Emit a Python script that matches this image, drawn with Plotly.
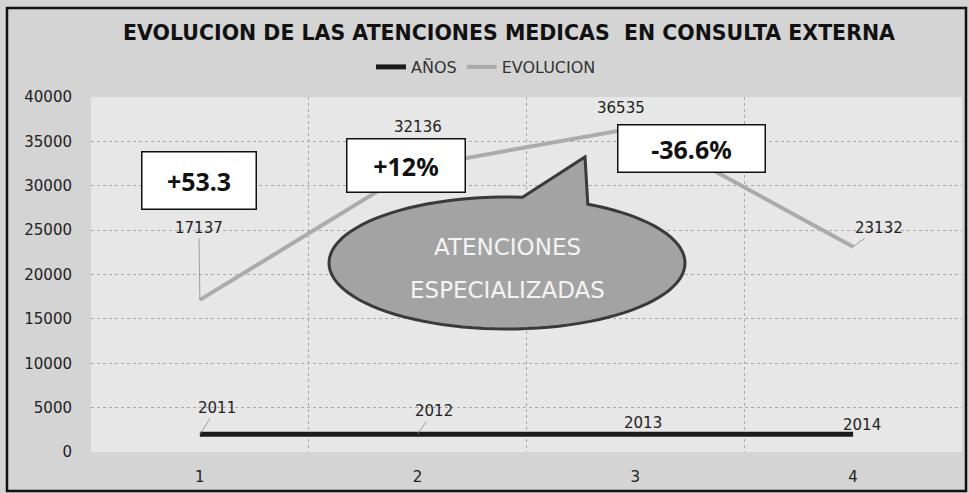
import numpy as np
import plotly.graph_objects as go

# ---------------- data ----------------
periodos = [1, 2, 3, 4]
anios = [2011, 2012, 2013, 2014]
evolucion = [17137, 32136, 36535, 23132]
variaciones = ["+53.3", "+12%", "-36.6%"]
titulo = "EVOLUCION DE LAS ATENCIONES MEDICAS  EN CONSULTA EXTERNA"
callout_text = ["ATENCIONES", "ESPECIALIZADAS"]
y_ticks = list(range(0, 40001, 5000))
y_ticklabels = [str(v) for v in y_ticks]

# ---------------- layout helpers (pixels -> plot paper) ----------------
W, H = 969, 493
L, R, T, B = 91, 962, 97, 452


def px(xp):
    return (xp - L) / (R - L)


def py(yp):
    return (B - yp) / (B - T)


FONT = "DejaVu Sans"

fig = go.Figure()
fig.add_trace(go.Scatter(x=periodos, y=anios, mode="lines", name="AÑOS",
                         line=dict(color="#1c1c1c", width=5)))
fig.add_trace(go.Scatter(x=periodos, y=evolucion, mode="lines", name="EVOLUCION",
                         line=dict(color="#ababab", width=4)))

annotations = []
# data labels (offsets in pixels, leader flag)
ev_off = [(-1, -72, True), (0, -40, False), (-14, -20, False), (26, -19, True)]
an_off = [(17, -26, True), (16, -23, True), (8, -11, True), (9, -9, False)]
for vals, offs in ((evolucion, ev_off), (anios, an_off)):
    for xv, yv, (ax, ay, lead) in zip(periodos, vals, offs):
        a = dict(x=xv, y=yv, xref="x", yref="y", text=str(yv),
                 xanchor="center", yanchor="middle",
                 font=dict(family=FONT, size=15, color="#222"))
        if lead:
            a.update(showarrow=True, arrowhead=0, arrowwidth=0.8, arrowcolor="#8a8a8a",
                     ax=ax, ay=ay)
        else:
            a.update(showarrow=False, xshift=ax, yshift=-ay)
        annotations.append(a)

# variation boxes
boxes = [(199, 180, 113, 56, 0), (406, 165, 117, 52, 0), (691, 148, 146, 46, -8)]
for txt, (cx, cy, bw, bh, sh) in zip(variaciones, boxes):
    annotations.append(dict(x=px(cx), y=py(cy), xref="paper", yref="paper",
                            xanchor="center", yanchor="middle",
                            text="<b>" + txt + "</b>", showarrow=False,
                            width=bw, height=bh, bgcolor="white", bordercolor="#111",
                            borderwidth=1.5, borderpad=0,
                            font=dict(family="Noto Sans", size=25, color="#111")))

# callout text
for i, t in enumerate(callout_text):
    annotations.append(dict(x=px(507), y=py(247 + i * 43), xref="paper", yref="paper",
                            xanchor="center", yanchor="middle",
                            text=t, showarrow=False,
                            font=dict(family=FONT, size=23, color="#f4f4f4")))

# callout shape: ellipse with tail
cx, cy, rx, ry = 507, 263, 178, 66
pts = []
for t in np.linspace(0, 63, 20):
    r = np.radians(t)
    pts.append((cx + rx * np.cos(r), cy - ry * np.sin(r)))
pts.append((585, 157))
for t in np.linspace(85, 360, 80):
    r = np.radians(t)
    pts.append((cx + rx * np.cos(r), cy - ry * np.sin(r)))
path = "M " + " L ".join(f"{px(a):.5f},{py(b):.5f}" for a, b in pts) + " Z"

shapes = [
    dict(type="path", xref="paper", yref="paper", path=path,
         fillcolor="#a3a3a3", line=dict(color="#3a3a3a", width=3), layer="above"),
    dict(type="rect", xref="paper", yref="paper", x0=px(7), x1=px(966), y0=py(491), y1=py(8),
         line=dict(color="#111", width=2.5), fillcolor="rgba(0,0,0,0)", layer="above"),
]

fig.update_layout(
    width=W, height=H,
    margin=dict(l=L, r=W - R, t=T, b=H - B),
    paper_bgcolor="#d4d4d4",
    plot_bgcolor="#e7e7e7",
    title=dict(text="<b>" + titulo + "</b>", x=509 / W, xanchor="center",
               y=1 - 33 / H, yanchor="middle",
               font=dict(family=FONT, size=20.5, color="#111")),
    legend=dict(orientation="h", x=px(486), xanchor="center", y=py(67), yanchor="middle",
                bgcolor="rgba(0,0,0,0)", itemwidth=30, tracegroupgap=0,
                font=dict(family=FONT, size=16, color="#333")),
    xaxis=dict(range=[0.5, 4.5], tickvals=periodos, ticktext=[str(p) for p in periodos],
               showgrid=False, zeroline=False, showline=False, ticks="",
               ticklabelstandoff=14,
               tickfont=dict(family=FONT, size=15, color="#222"),
               minor=dict(tickvals=[0.5, 1.5, 2.5, 3.5, 4.5], showgrid=True,
                          gridcolor="#a8a8a8", griddash="dot", gridwidth=1)),
    yaxis=dict(range=[0, 40000], tickvals=y_ticks, ticktext=y_ticklabels,
               showgrid=True, gridcolor="#a8a8a8",
               griddash="dot", gridwidth=1, zeroline=False, showline=False, ticks="",
               ticklabelstandoff=18,
               tickfont=dict(family=FONT, size=15, color="#222")),
    annotations=annotations,
    shapes=shapes,
)

fig.write_html("out.html", config={"displayModeBar": False},
               post_script="document.body.style.margin='0px';")
